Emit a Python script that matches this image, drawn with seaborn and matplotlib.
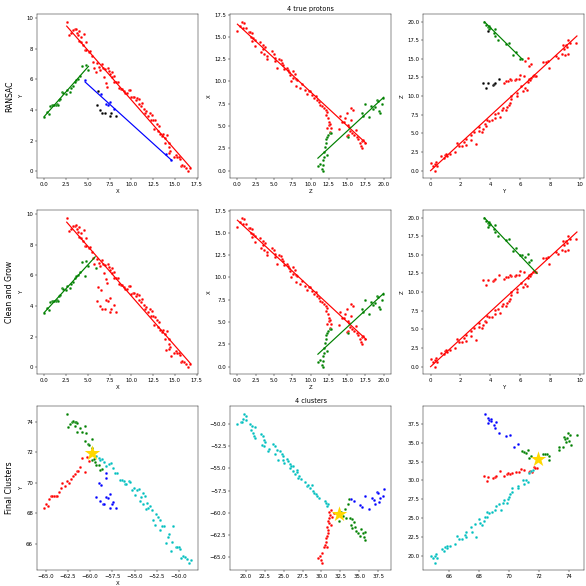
import numpy as np
import matplotlib
matplotlib.use("Agg")
import matplotlib.pyplot as plt
import seaborn as sns

# ---------------- hits, X/Y projection (rows 1 and 2, first column) ----------------
xy_red_x = [2.58, 2.85, 3.08, 3.31, 3.5, 3.65, 3.73, 3.96, 3.85, 4.0, 4.23, 4.58, 4.85, 4.19, 4.42,
            4.65, 4.85, 5.15, 5.27, 5.5, 5.58, 5.69, 6.04, 6.23, 6.38, 6.58, 6.69, 6.81, 6.96, 7.04,
            7.15, 7.27, 7.42, 7.58, 7.73, 7.81, 7.96, 8.04, 8.23, 8.42, 8.62, 8.77, 8.88, 9.12, 9.31,
            9.46, 9.73, 9.88, 10.0, 10.19, 10.35, 10.54, 10.69, 10.85, 10.92, 11.15, 11.27, 11.42, 11.62,
            11.73, 11.96, 12.12, 12.27, 12.42, 12.54, 12.65, 12.77, 12.92, 13.08, 13.19, 13.31, 13.5,
            13.65, 13.81, 13.88, 14.12, 14.27, 14.38, 14.46, 14.31, 14.88, 15.12, 15.27, 15.42, 15.58,
            15.69, 15.85, 16.04, 16.27, 16.5, 16.69]
xy_red_y = [9.76, 8.87, 9.02, 9.19, 9.24, 9.28, 9.04, 9.15, 8.85, 8.52, 8.78, 8.93, 8.41, 8.43, 8.21,
            7.93, 7.89, 7.78, 7.82, 7.54, 7.1, 6.73, 7.06, 6.8, 6.62, 6.99, 6.73, 6.12, 6.67, 5.75,
            5.49, 6.73, 6.51, 6.34, 6.47, 6.14, 6.23, 5.82, 5.82, 5.84, 5.45, 5.36, 5.38, 5.25, 5.12,
            5.1, 5.32, 5.27, 4.81, 4.86, 4.84, 4.66, 4.75, 4.4, 4.73, 4.27, 4.44, 4.07, 3.83,
            3.92, 3.62, 3.79, 3.33, 3.68, 3.36, 2.77, 3.31, 3.09, 2.64, 2.98, 2.42, 2.27,
            2.42, 2.18, 1.83, 2.37, 1.83, 1.55, 1.33, 1.18, 0.96, 1.05, 0.96, 0.92, 0.83,
            0.37, 0.44, 0.33, 0.24, 0.04, 0.22]
xy_swap_x = [5.92]
xy_swap_y = [6.45]
xy_green_x = [0.0, 0.27, 0.54, 0.62, 0.85, 1.04, 1.15, 1.31, 1.42, 1.58, 1.69, 1.85, 2.08, 2.19, 2.46,
              2.65, 2.92, 3.12, 3.31, 3.5, 3.69, 3.85, 4.12, 4.38, 4.85, 5.08]
xy_green_y = [3.55, 3.86, 3.73, 4.23, 4.31, 4.31, 4.34, 4.31, 4.38, 4.34, 4.62, 4.71, 5.14, 5.1, 5.03,
              5.27, 5.16, 5.4, 5.53, 5.8, 5.95, 6.01, 6.23, 6.84, 6.95, 6.6]
xy_kink_x = [4.69]
xy_kink_y = [5.95]
xy_blue_x = [6.5, 7.08, 7.5, 7.27, 7.96, 13.96, 14.54]
xy_blue_y = [5.05, 4.38, 4.53, 4.31, 4.07, 1.11, 0.76]
xy_black_x = [6.0, 6.19, 6.38, 6.65, 6.92, 7.5, 7.69, 8.19]
xy_black_y = [4.31, 5.25, 3.99, 3.83, 3.83, 3.59, 3.81, 3.59]

# ---------------- Z/X projection (rows 1 and 2, middle column) ----------------
zx_red_x = [0.0, 0.41, 0.69, 0.87, 0.78, 1.15, 1.56, 1.74, 1.79, 1.97, 2.02, 2.16, 2.34, 2.34, 3.07,
            3.21, 3.44, 3.53, 3.72, 3.62, 4.0, 4.08, 4.72, 5.05, 5.14, 5.14, 5.46, 5.73, 5.92, 6.06,
            6.28, 6.38, 6.74, 6.88, 7.06, 7.2, 7.29, 7.57, 7.66, 7.89, 7.98, 8.12, 8.03, 8.58, 8.81,
            9.27, 9.5, 9.77, 9.95, 10.18, 10.41, 10.69, 10.87, 11.1, 11.33, 11.56, 11.79, 12.11, 12.16,
            12.25, 12.34, 12.48, 12.57, 12.71, 12.25, 12.61, 12.84, 13.9, 14.08, 14.36, 14.54, 14.77,
            14.91, 15.09, 15.23, 15.37, 15.46, 15.55, 15.64, 15.83, 15.92, 16.24, 16.38, 16.51, 16.7,
            16.83, 16.97, 17.06, 17.2, 17.39, 15.09, 14.91]
zx_red_y = [15.66, 16.26, 16.72, 16.57, 16.0, 15.96, 15.58, 15.51, 15.02, 15.4, 14.57, 14.91, 14.68, 14.0, 14.38,
            13.32, 14.08, 13.62, 13.89, 13.06, 12.57, 12.87, 13.36, 13.13, 12.68, 12.3, 11.55, 12.57, 12.38, 12.11,
            11.81, 11.36, 11.55, 11.25, 11.06, 10.68, 10.04, 11.17, 10.42, 10.79, 10.23, 10.15, 9.47, 9.28, 9.66,
            9.09, 8.64, 8.91, 8.91, 8.53, 8.15, 8.34, 7.96, 7.7, 7.4, 7.21, 7.02, 6.75, 6.26,
            6.53, 5.89, 5.51, 5.13, 5.25, 4.75, 4.38, 4.83, 4.72, 6.15, 5.51, 5.51, 5.89,
            6.45, 5.13, 4.94, 4.49, 7.02, 5.7, 4.19, 6.83, 4.0, 4.57, 3.81, 3.51, 3.06,
            2.79, 3.32, 2.57, 3.43, 3.13, 4.0, 3.89]
zx_green_x = [11.0, 11.33, 11.56, 11.65, 11.7, 11.65, 11.79, 11.88, 11.93, 12.06, 12.16, 12.25, 12.29,
              12.43, 12.61, 12.8, 15.14, 17.39, 17.06, 17.16, 17.94, 18.3, 18.58, 18.76, 19.04, 19.22,
              19.36, 19.45, 19.82, 19.95]
zx_green_y = [0.49, 0.79, 0.23, 0.0, 1.17, 0.6, 1.55, 2.11, 2.68, 3.06, 3.51, 3.74, 1.74,
              4.0, 4.19, 4.26, 3.81, 7.51, 6.45, 6.08, 5.96, 7.21, 6.94, 7.13, 7.96, 7.77,
              6.64, 6.45, 7.51, 8.15]

# ---------------- Y/Z projection (rows 1 and 2, last column) ----------------
yz_red_x = [0.0, 0.18, 0.27, 0.33, 0.31, 0.4, 0.73, 0.89, 0.96, 1.05, 1.11, 1.29, 1.63, 1.78, 1.89,
            2.12, 2.27, 2.36, 2.36, 2.72, 2.72, 2.94, 3.05, 3.23, 3.27, 3.41, 3.52, 3.63, 3.72, 3.79,
            3.9, 4.08, 4.3, 4.34, 4.52, 4.68, 4.79, 4.83, 5.08, 5.12, 5.23, 5.3, 5.39, 5.41, 5.79,
            5.79, 6.08, 6.19, 6.35, 6.46, 6.53, 6.57, 6.68, 6.75, 6.84, 6.9, 6.99, 7.08, 7.53, 7.75,
            7.86, 7.91, 8.42, 8.51, 8.8, 8.84, 8.95, 9.02, 9.09, 9.13, 9.18, 9.22, 9.31, 9.73, 6.26,
            6.01, 5.9, 5.68, 5.41, 5.3, 5.17, 5.06, 4.9, 5.72]
yz_red_y = [0.99, 0.68, 0.9, 1.13, 0.0, 0.68, 1.9, 1.67, 2.12, 2.26, 2.03, 2.21, 2.44, 3.7, 3.25,
            3.25, 3.79, 3.48, 4.24, 4.83, 4.15, 5.15, 3.61, 5.87, 5.28, 5.15, 5.6, 6.19, 6.05, 6.86,
            6.64, 6.73, 7.09, 7.54, 7.67, 7.18, 8.08, 8.35, 8.08, 8.58, 8.76, 9.12, 9.57, 10.02, 10.38,
            10.02, 11.29, 10.7, 11.15, 10.84, 11.92, 12.28, 12.14, 12.42, 12.73, 12.82, 12.73, 12.64, 14.63, 14.54,
            14.72, 13.81, 15.44, 15.12, 15.67, 16.88, 16.34, 15.53, 16.79, 16.57, 15.67, 17.47, 17.16, 17.11, 12.64,
            12.87, 12.23, 12.19, 12.1, 12.23, 12.01, 12.01, 11.74, 12.28]
yz_swap_x = [6.35, 6.5, 6.57, 6.7]
yz_swap_y = [14.76, 15.12, 14.09, 14.31]
yz_black_x = [3.52, 3.7, 3.83, 4.16, 4.28, 4.34, 4.61]
yz_black_y = [11.69, 11.02, 11.69, 11.47, 11.6, 11.74, 12.28]
yz_black_top_x = [3.85]
yz_black_top_y = [18.69]
yz_green_x = [3.61, 3.72, 3.83, 3.94, 3.97, 3.9, 4.23, 4.34, 4.3, 4.52, 5.03, 5.26, 5.52, 5.75, 6.01, 6.12]
yz_green_y = [20.0, 19.5, 19.32, 19.41, 19.14, 18.96, 18.42, 18.96, 18.06, 17.47, 17.02, 17.16, 15.53,
              15.89, 14.99, 14.99]

# fitted track lines (end points)
ransac_lines = {
    0: [([2.58, 16.8], [9.46, 0.24], "red"), ([0.0, 5.08], [3.57, 6.84], "green"),
        ([4.69, 14.62], [5.82, 0.72], "blue")],
    1: [([0.0, 17.6], [16.42, 3.06], "red"), ([11.0, 20.0], [1.4, 8.23], "green")],
    2: [([0.0, 9.8], [0.0, 18.06], "red"), ([3.61, 6.12], [19.95, 14.99], "green")],
}
grow_lines = {
    0: [([2.58, 16.8], [9.46, 0.24], "red"), ([0.0, 5.85], [3.57, 7.2], "green")],
    1: [([0.0, 17.6], [16.42, 3.06], "red"), ([11.0, 20.0], [1.4, 8.23], "green")],
    2: [([0.0, 9.8], [0.0, 18.06], "red"), ([3.61, 7.13], [19.95, 12.5], "green")],
}

# ---------------- final clusters (row 3) ----------------
fc1_red_x = [-65.15, -64.92, -64.7, -64.62, -64.43, -64.24, -64.05, -63.86, -63.67, -63.48, -63.26, -63.11,
             -62.84, -62.61, -62.35, -62.12, -61.97, -61.74, -61.52, -61.36, -61.14, -60.53, -60.91, -60.15, -60.38]
fc1_red_y = [68.34, 68.65, 68.49, 68.98, 69.13, 69.13, 69.13, 69.13, 69.13, 69.4, 69.66, 69.99,
             69.81, 70.12, 69.97, 70.23, 70.45, 70.59, 70.78, 70.76, 71.03, 70.74, 71.62, 71.44, 71.73]
fc1_green_x = [-62.61, -62.46, -62.23, -62.0, -61.89, -61.74, -61.59, -61.44, -61.67, -61.44, -61.1, -60.91,
               -60.61, -60.45, -60.57, -60.27, -60.08, -59.77, -59.81, -59.66, -59.77, -59.58, -59.47, -59.32,
               -58.94, -58.64, -59.05]
fc1_green_y = [74.55, 73.67, 73.87, 74.0, 74.09, 74.02, 73.98, 73.91, 73.71, 73.36, 73.6, 73.32,
               73.76, 73.27, 72.72, 72.57, 72.52, 72.88, 72.3, 71.89, 71.51, 71.56, 71.36, 71.2,
               70.85, 70.94, 71.16]
fc1_cyan_x = [-59.32, -59.05, -58.83, -58.64, -58.41, -58.26, -57.88, -57.69, -57.42, -57.23, -56.97, -56.63,
              -56.44, -56.21, -56.1, -55.91, -55.68, -55.49, -55.27, -55.11, -54.96, -54.77, -54.55, -54.39,
              -54.24, -54.09, -54.02, -53.86, -53.75, -53.64, -53.45, -53.26, -53.07, -52.88, -52.69, -52.54,
              -52.39, -52.2, -52.12, -51.93, -51.74, -51.48, -51.29, -51.14, -50.91, -50.68, -50.83, -50.38,
              -50.19, -50.04, -49.85, -49.73, -49.55, -49.36, -49.13, -48.94, -48.71]
fc1_cyan_y = [71.8, 71.62, 71.51, 71.58, 71.38, 71.11, 71.25, 71.29, 71.0, 70.63, 70.63, 70.19,
              70.19, 70.15, 69.93, 69.93, 70.15, 70.06, 69.53, 69.64, 69.24, 69.57, 69.61, 68.8,
              69.09, 69.35, 68.65, 69.13, 68.32, 68.69, 68.38, 68.47, 68.25, 67.55, 67.22, 67.99,
              67.77, 67.59, 66.93, 67.15, 67.17, 66.07, 66.44, 66.67, 65.52, 67.15, 66.11, 65.83,
              65.78, 65.83, 65.7, 65.08, 65.19, 65.12, 65.01, 64.77, 64.95]
fc1_blue_x = [-59.32, -59.05, -58.86, -58.79, -58.56, -58.41, -58.26, -58.26, -58.18, -57.99, -57.8, -57.73,
              -57.58, -57.42, -57.12]
fc1_blue_y = [69.09, 70.01, 68.8, 69.86, 68.6, 68.6, 70.3, 70.63, 69.09, 69.04, 69.26, 68.38,
              68.65, 68.76, 68.38]
fc1_star = ([-59.81], [71.95])

fc2_cyan_x = [18.89, 19.42, 19.65, 19.78, 19.96, 20.09, 19.56, 20.62, 20.88, 20.75, 20.97, 21.19, 21.11,
              21.28, 21.99, 22.21, 22.08, 22.39, 22.52, 22.43, 22.96, 23.1, 23.63, 23.85, 23.85, 24.07,
              24.29, 24.51, 24.73, 24.87, 24.96, 25.04, 25.49, 25.62, 25.84, 25.84, 25.97, 26.19, 26.28,
              26.5, 26.73, 26.81, 26.86, 27.08, 27.26, 27.83, 28.05, 28.27, 28.5, 28.72, 28.85, 29.03,
              29.29, 29.47, 29.69, 30.4, 30.62, 30.71, 30.8]
fc2_cyan_y = [-50.0, -49.74, -49.44, -48.83, -49.06, -49.51, -49.81, -49.96, -50.19, -50.64, -51.02, -50.38, -51.39,
              -51.58, -51.13, -51.39, -52.33, -51.77, -52.03, -52.52, -53.08, -52.82, -52.22, -52.44, -53.35, -52.89,
              -54.02, -53.08, -53.38, -53.65, -54.02, -54.4, -53.95, -54.21, -54.96, -54.47, -54.7, -55.34, -54.77,
              -55.6, -55.45, -55.15, -56.09, -55.83, -56.2, -56.47, -56.92, -56.84, -57.22, -56.84, -57.48, -57.71,
              -57.86, -58.08, -58.35, -58.61, -58.83, -59.17, -59.02]
fc2_red_x = [29.56, 29.87, 30.04, 30.0, 30.09, 30.27, 30.49, 30.62, 30.62, 30.8, 30.71, 30.84, 30.71, 30.93,
             31.06, 31.11, 30.84, 31.24, 31.02, 31.28, 31.33, 31.59, 30.75]
fc2_red_y = [-65.08, -64.85, -64.47, -65.3, -65.6, -63.8, -63.61, -62.78, -63.23, -62.29, -62.56, -61.92, -61.54, -61.09,
             -60.6, -60.23, -60.9, -59.66, -59.89, -61.35, -60.41, -59.96, -63.8]
fc2_green_x = [32.3, 32.57, 32.83, 33.14, 33.23, 33.45, 33.67, 33.81, 33.94, 34.07, 34.07, 34.34, 34.47, 34.6,
               34.78, 35.04, 35.27, 35.44, 35.58, 35.71, 35.8]
fc2_green_y = [-60.9, -59.85, -60.34, -59.59, -60.53, -59.02, -58.46, -60.6, -61.35, -60.71, -61.73, -60.98, -61.54,
               -61.99, -62.22, -62.59, -61.84, -62.29, -62.74, -62.11, -63.05]
fc2_blue_x = [33.89, 34.25, 35.13, 35.35, 35.8, 36.33, 36.68, 36.9, 37.12, 37.35, 37.48, 37.57, 37.7, 38.14, 38.23]
fc2_blue_y = [-58.46, -58.61, -59.1, -59.36, -58.08, -59.59, -58.27, -58.53, -58.98, -57.63, -57.78, -58.72,
              -58.27, -58.08, -57.33]
fc2_star = ([32.26], [-60.11])

fc3_blue_x = [68.41, 68.63, 68.69, 68.81, 68.65, 68.85, 69.03, 69.14, 69.1, 69.32, 69.83, 70.1, 70.32, 70.59]
fc3_blue_y = [38.9, 38.31, 38.0, 38.18, 37.64, 37.86, 37.36, 37.77, 36.96, 36.37, 35.92, 36.06, 34.39, 34.79]
fc3_green_x = [70.88, 70.99, 71.17, 71.26, 71.37, 71.48, 72.28, 72.44, 72.53, 72.66, 72.7, 73.31, 73.37, 73.59,
               73.66, 73.75, 73.82, 73.88, 73.93, 73.97, 74.04, 74.11, 74.53]
fc3_green_y = [33.94, 33.8, 33.67, 34.03, 33.03, 33.26, 33.58, 33.49, 33.58, 33.21, 32.76, 34.48, 34.03, 34.48,
               35.83, 35.47, 35.06, 35.61, 36.37, 35.29, 36.06, 34.7, 36.06]
fc3_red_x = [68.36, 68.52, 68.65, 68.96, 69.07, 69.14, 69.41, 69.7, 69.85, 69.96, 70.1, 70.21, 70.48, 70.65,
             70.81, 71.03, 71.43, 71.55, 71.7, 71.77, 71.88, 71.35]
fc3_red_y = [30.55, 29.97, 30.51, 30.33, 30.51, 30.64, 31.23, 30.64, 30.87, 30.96, 30.87, 30.96, 31.09, 31.09,
             31.55, 31.41, 31.32, 31.09, 31.77, 31.68, 31.64, 31.18]
fc3_cyan_x = [64.8, 64.98, 65.07, 65.14, 65.11, 65.2, 65.53, 65.69, 65.76, 65.87, 65.91, 66.09, 66.42, 66.58,
              66.69, 66.91, 67.07, 67.18, 67.16, 67.51, 67.54, 67.74, 67.85, 68.03, 68.09, 68.2, 68.36, 68.43,
              68.52, 68.58, 68.69, 68.87, 69.1, 69.14, 69.32, 69.47, 69.59, 69.65, 69.88, 69.92, 70.03, 70.1,
              70.19, 70.21, 70.59, 70.59, 70.92, 70.99, 71.14, 71.26, 71.37, 71.48, 71.59]
fc3_cyan_y = [19.95, 19.68, 19.95, 20.23, 19.05, 19.68, 20.81, 20.59, 21.13, 21.26, 21.04, 21.31, 21.49, 22.66,
              22.16, 22.16, 22.75, 22.53, 23.2, 23.74, 23.2, 24.19, 22.53, 24.92, 24.33, 24.1, 24.55, 25.19,
              25.1, 25.77, 25.64, 25.82, 26.13, 26.58, 26.81, 26.13, 27.04, 27.4, 27.04, 27.58, 27.8, 28.16,
              28.52, 28.97, 29.29, 28.97, 30.06, 29.52, 30.06, 29.74, 30.96, 31.23, 31.41]
fc3_star = ([71.95], [32.81])

row_names = ["RANSAC", "Clean and Grow", "Final Clusters"]
proj_labels = [("X", "Y"), ("Z", "X"), ("Y", "Z")]


def dots(ax, x, y, color):
    sns.scatterplot(x=x, y=y, color=color, s=24, linewidth=0.3, edgecolor="white", ax=ax)


def tracks(ax, lines):
    # track fits drawn on top of the hits
    for lx, ly, c in lines:
        sns.lineplot(x=lx, y=ly, color=c, linewidth=2.2, sort=False, estimator=None,
                     zorder=4, ax=ax)


fig, axes = plt.subplots(3, 3, figsize=(15, 15))
fig.subplots_adjust(left=0.063, right=0.997, top=0.976, bottom=0.027, wspace=0.2, hspace=0.195)

# row 1 - RANSAC
ax = axes[0, 0]
dots(ax, xy_red_x + xy_swap_x, xy_red_y + xy_swap_y, "red")
dots(ax, xy_green_x, xy_green_y, "green")
dots(ax, xy_kink_x + xy_blue_x, xy_kink_y + xy_blue_y, "blue")
dots(ax, xy_black_x, xy_black_y, "black")
tracks(ax, ransac_lines[0])
ax = axes[0, 1]
dots(ax, zx_red_x, zx_red_y, "red")
dots(ax, zx_green_x, zx_green_y, "green")
tracks(ax, ransac_lines[1])
ax = axes[0, 2]
dots(ax, yz_red_x + yz_swap_x, yz_red_y + yz_swap_y, "red")
dots(ax, yz_green_x, yz_green_y, "green")
dots(ax, yz_black_x + yz_black_top_x, yz_black_y + yz_black_top_y, "black")
tracks(ax, ransac_lines[2])

# row 2 - clean and grow
ax = axes[1, 0]
dots(ax, xy_red_x + xy_blue_x + xy_black_x, xy_red_y + xy_blue_y + xy_black_y, "red")
dots(ax, xy_green_x + xy_kink_x + xy_swap_x, xy_green_y + xy_kink_y + xy_swap_y, "green")
tracks(ax, grow_lines[0])
ax = axes[1, 1]
dots(ax, zx_red_x, zx_red_y, "red")
dots(ax, zx_green_x, zx_green_y, "green")
tracks(ax, grow_lines[1])
ax = axes[1, 2]
dots(ax, yz_red_x + yz_black_x, yz_red_y + yz_black_y, "red")
dots(ax, yz_green_x + yz_swap_x + yz_black_top_x, yz_green_y + yz_swap_y + yz_black_top_y, "green")
tracks(ax, grow_lines[2])

for r in range(2):
    for c in range(3):
        axes[r, c].set_xlabel(proj_labels[c][0])
        axes[r, c].set_ylabel(proj_labels[c][1])

# row 3 - final clusters
ax = axes[2, 0]
dots(ax, fc1_red_x, fc1_red_y, "red")
dots(ax, fc1_green_x, fc1_green_y, "green")
dots(ax, fc1_cyan_x, fc1_cyan_y, "c")
dots(ax, fc1_blue_x, fc1_blue_y, "blue")
sns.scatterplot(x=fc1_star[0], y=fc1_star[1], marker="*", s=900, color="gold", linewidth=0, ax=ax)
ax.set_xlabel("X")
ax.set_ylabel("Y")
ax = axes[2, 1]
dots(ax, fc2_cyan_x, fc2_cyan_y, "c")
dots(ax, fc2_red_x, fc2_red_y, "red")
dots(ax, fc2_green_x, fc2_green_y, "green")
dots(ax, fc2_blue_x, fc2_blue_y, "blue")
sns.scatterplot(x=fc2_star[0], y=fc2_star[1], marker="*", s=900, color="gold", linewidth=0, ax=ax)
ax = axes[2, 2]
dots(ax, fc3_blue_x, fc3_blue_y, "blue")
dots(ax, fc3_green_x, fc3_green_y, "green")
dots(ax, fc3_red_x, fc3_red_y, "red")
dots(ax, fc3_cyan_x, fc3_cyan_y, "c")
sns.scatterplot(x=fc3_star[0], y=fc3_star[1], marker="*", s=900, color="gold", linewidth=0, ax=ax)

axes[0, 1].set_title("4 true protons")
axes[2, 1].set_title("4 clusters")

for ax, name in zip(axes[:, 0], row_names):
    ax.annotate(name, xy=(0, 0.5), xytext=(-ax.yaxis.labelpad - 5, 0),
                xycoords=ax.yaxis.label, textcoords="offset points",
                size="x-large", ha="right", va="center", rotation=90)

fig.savefig("out.png", dpi=586 / 15)
